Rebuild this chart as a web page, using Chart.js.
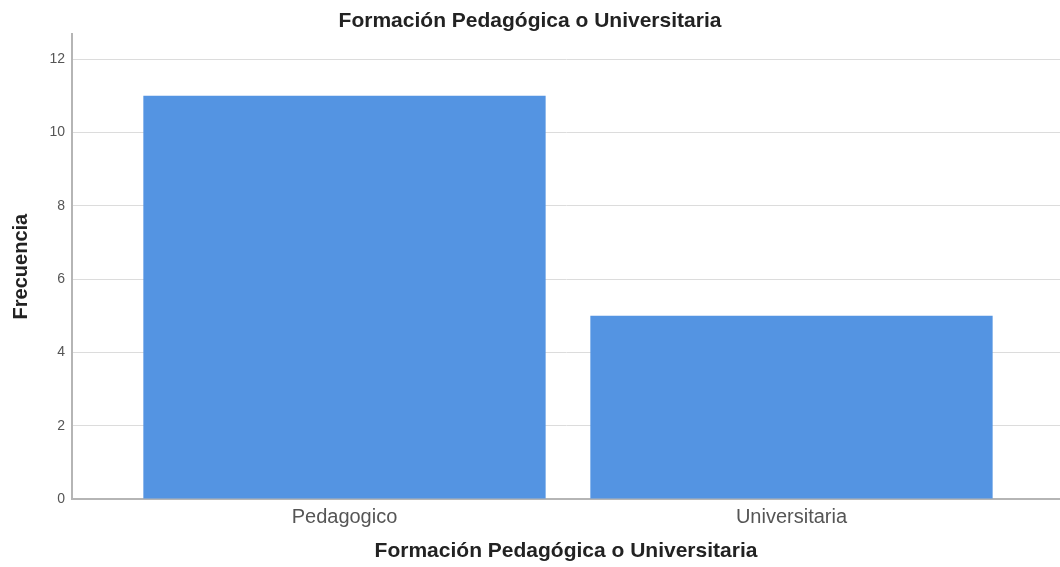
<!DOCTYPE html>
<html>
<head>
<meta charset="utf-8">
<script src="https://cdn.jsdelivr.net/npm/chart.js@4.4.1/dist/chart.umd.min.js"></script>
<style>
  body { margin: 0; background: #fff; }
  #wrap { width: 1060px; height: 567px; }
</style>
</head>
<body>
<div id="wrap"><canvas id="barChart"></canvas></div>
<script>
// Datos del gráfico
const categories = ['Pedagogico', 'Universitaria'];
const frecuencias = [11, 5];
const yTicks = [0, 2, 4, 6, 8, 10, 12];

const titleText = 'Formación Pedagógica o Universitaria';
const font = "'Liberation Sans', Arial, sans-serif";

const ctx = document.getElementById('barChart').getContext('2d');
const barChart = new Chart(ctx, {
    type: 'bar',
    data: {
        datasets: [{
            label: 'Frecuencia',
            data: categories.map((c, i) => ({ x: i, y: frecuencias[i] })),
            backgroundColor: '#5494e2',
            borderWidth: 0,
            barPercentage: 0.9,
            categoryPercentage: 1
        }]
    },
    options: {
        responsive: true,
        maintainAspectRatio: false,
        animation: false,
        layout: { padding: 0 },
        plugins: {
            legend: { display: false },
            tooltip: { enabled: false },
            title: {
                display: true,
                text: titleText,
                color: '#222',
                font: { family: font, size: 21, weight: 'bold' },
                padding: { top: 9, bottom: 0 }
            }
        },
        scales: {
            x: {
                type: 'linear',
                offset: false,
                min: -0.6096,
                max: 1.6007,
                afterBuildTicks: (scale) => {
                    scale.ticks = categories.map((c, i) => ({ value: i }));
                },
                afterFit: (scale) => { scale.height = 68; },
                grid: { display: false, drawTicks: false, offset: false },
                border: { display: true, color: '#b5b5b5', width: 2 },
                ticks: {
                    padding: 6,
                    color: '#555',
                    font: { family: font, size: 20 },
                    callback: (v) => categories[v]
                },
                title: {
                    display: true,
                    text: titleText,
                    color: '#222',
                    font: { family: font, size: 21, weight: 'bold' },
                    padding: { top: 0, bottom: 3 }
                }
            },
            y: {
                min: 0,
                max: 12.68,
                afterBuildTicks: (scale) => {
                    scale.ticks = yTicks.map(v => ({ value: v }));
                },
                afterFit: (scale) => { scale.width = 72; },
                grid: { color: '#dcdcdc', lineWidth: 1, drawTicks: false },
                border: { display: true, color: '#b5b5b5', width: 2 },
                ticks: {
                    padding: 7,
                    color: '#555',
                    font: { family: font, size: 14 }
                },
                title: {
                    display: true,
                    text: 'Frecuencia',
                    color: '#222',
                    font: { family: font, size: 20, weight: 'bold' },
                    padding: { top: 9, bottom: 0 }
                }
            }
        }
    }
});
</script>
</body>
</html>
